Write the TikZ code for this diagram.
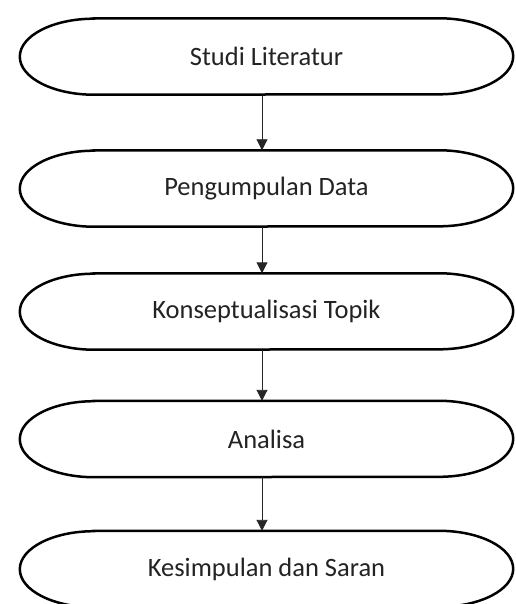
\documentclass[tikz,border=0pt]{standalone}
\usepackage{fontspec}
\setmainfont{Carlito}
\usetikzlibrary{arrows.meta}
\definecolor{txt}{RGB}{35,35,35}
\newcommand{\lowtext}[1]{\raisebox{-3pt}{#1}}
\tikzset{
  stepbox/.style={draw=none, minimum width=493pt, minimum height=76pt, inner sep=0pt,
    font=\fontsize{26.5}{30}\selectfont, text=txt},
  outline/.style={draw=black, line width=2.5pt},
  flow/.style={draw=black!85, line width=0.9pt, -{Triangle[width=11pt,length=11pt]}}
}
\begin{document}
\begin{tikzpicture}[x=1pt,y=-1pt]
\useasboundingbox (0,0) rectangle (515,604);
\fill[white] (0,0) rectangle (515,604);
\node[stepbox] (s1) at (266.5,56.5) {\lowtext{Studi Literatur}};
\node[stepbox] (s2) at (266.5,188.5) {\lowtext{Pengumpulan Data}};
\node[stepbox] (s3) at (266.5,311.5) {\lowtext{Konseptualisasi Topik}};
\node[stepbox] (s4) at (266.5,439) {\lowtext{Analisa}};
\node[stepbox] (s5) at (266.5,569) {\lowtext{Kesimpulan dan Saran}};
\foreach \n in {s1,s2,s3,s4,s5}{
  \draw[outline] ([xshift=74pt]\n.north west) -- ([xshift=-74pt]\n.north east)
    arc[start angle=90, end angle=-90, x radius=74pt, y radius=38pt]
    -- ([xshift=74pt]\n.south west)
    arc[start angle=270, end angle=90, x radius=74pt, y radius=38pt] -- cycle;
}
\draw[flow] ([xshift=-4.5pt]s1.south) -- ([xshift=-4.5pt]s2.north);
\draw[flow] ([xshift=-4.5pt]s2.south) -- ([xshift=-4.5pt]s3.north);
\draw[flow] ([xshift=-4.5pt]s3.south) -- ([xshift=-4.5pt]s4.north);
\draw[flow] ([xshift=-4.5pt]s4.south) -- ([xshift=-4.5pt]s5.north);
\end{tikzpicture}
\end{document}
